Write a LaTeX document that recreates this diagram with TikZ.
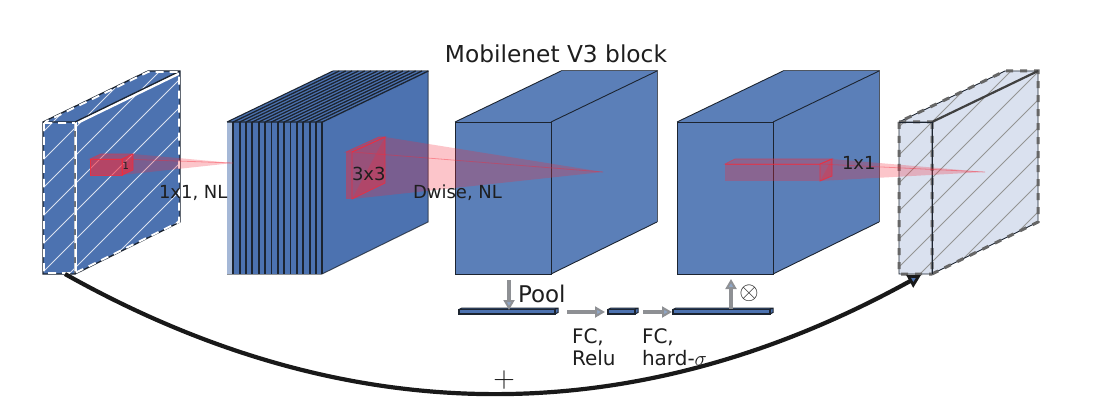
\documentclass[tikz,border=0pt]{standalone}
\usepackage{fontspec}
\setmainfont{DejaVu Sans}
\usetikzlibrary{arrows.meta,bending}
\definecolor{deepblue}{HTML}{4C72B0}
\definecolor{midblue}{HTML}{5B7FB8}
\definecolor{paleblue}{HTML}{DAE1EF}
\definecolor{edgeink}{HTML}{1C2430}
\definecolor{arrowgrey}{HTML}{8E9094}
\definecolor{headblue}{HTML}{8FA6C6}
\definecolor{textink}{HTML}{1E1E1E}
\definecolor{conered}{HTML}{F52A3A}
\tikzset{
  x=1pt,y=-1pt,
  blockedge/.style={draw=edgeink,line width=.9pt,line join=miter},
  backedge/.style={draw=edgeink,draw opacity=.75,line width=1pt},
  cone/.style={fill=conered,fill opacity=.27,draw=none},
  coneaxis/.style={draw=conered,draw opacity=.4,line width=.8pt},
  kernelface/.style={fill=conered,fill opacity=.62,draw=conered,draw opacity=.8,line width=.8pt},
  kerneltop/.style={fill=conered,fill opacity=.4,draw=conered,draw opacity=.5,line width=.8pt},
  label/.style={inner sep=0pt,outer sep=0pt,anchor=base west,text=textink,font=\fontsize{18}{20}\selectfont},
  sublabel/.style={label,font=\fontsize{20}{22}\selectfont},
  flowarrow/.style={draw=arrowgrey,line width=3.6pt,
    -{Triangle[length=10pt,width=11pt,fill=headblue,line width=2pt]}},
  skiparrow/.style={draw=black!90,line width=4.2pt,
    -{Triangle[length=13pt,width=14pt,fill=deepblue,line width=2.8pt,bend]}},
}
% A flat block from the squeeze-and-excite branch
\newcommand{\thinblock}[2]{%
  \fill[deepblue] (#1,309.5) -- (#1+3,308) -- (#2+3,308) -- (#2+3,312.5) -- (#2,314) -- (#1,314) -- cycle;
  \draw[edgeink,line width=1.3pt] (#1,309.5) rectangle (#2,314);
  \draw[edgeink,line width=1pt] (#1,309.5) -- (#1+3,308) -- (#2+3,308) -- (#2+3,312.5) -- (#2,314) (#2,309.5) -- (#2+3,308);
}
\begin{document}
\begin{tikzpicture}
\useasboundingbox (0,0) rectangle (1099,414);

% Input feature block, hatched and dashed in white
\fill[deepblue] (43,122) -- (148,71) -- (180,71) -- (180,222) -- (75,274) -- (43,274) -- cycle;
\begin{scope}
  \clip (43,122) -- (148,71) -- (180,71) -- (180,222) -- (75,274) -- (43,274) -- cycle;
  \foreach \k in {6,...,15}
    \draw[white,draw opacity=.8,line width=.9pt] ({7+28*\k-40},40) -- ({7+28*\k-300},300);
\end{scope}
\draw[white,line width=3pt] (75,122) -- (75,274);
\draw[white,line width=2.6pt] (78,122.5) -- (179,73.5);
\draw[edgeink,line width=1.3pt] (43,122) -- (75,122) -- (75,274) -- (43,274) -- cycle
  (43,122) -- (148,71) -- (180,71) -- (180,222) -- (75,274)
  (75,122) -- (180,71);
\draw[white,line width=1.9pt,dash pattern=on 8pt off 6pt]
  (44,123) -- (75,123) (44,123) -- (44,273) -- (75,273) (75.3,123) -- (75.3,273)
  (76,272.5) -- (179,222) -- (179,72) -- (148,72) -- (45,122);

% Stack of expanded channels
\fill[deepblue,fill opacity=.5] (227,122) -- (233,122) -- (233,274) -- (227,274) -- cycle;
\fill[deepblue] (233,122) -- (227,122) -- (333,71) -- (428,71) -- (428,222) -- (322,274) -- (233,274) -- cycle;
\foreach \k in {0,...,14} {
  \draw[edgeink,line width=1.8pt] ({233.3+6.36*\k},122) -- ({233.3+6.36*\k},274);
  \draw[edgeink,line width=1.3pt] ({233.3+6.36*\k},122) -- ({339.3+6.36*\k},71);
}
\draw[edgeink,line width=1.1pt] (227,122) -- (333,71) (227,122) -- (322,122);
\draw[backedge] (333,71) -- (428,71) -- (428,222) -- (322,274);
\draw[edgeink!50,line width=1pt] (227,274) -- (322,274);

% Depthwise output block
\fill[midblue] (455,122) -- (561,71) -- (657,71) -- (657,222) -- (551,274) -- (455,274) -- cycle;
\draw[blockedge] (455,122) rectangle (551,274);
\draw[blockedge] (455,122) -- (561,71) (551,122) -- (657,71) (551,274) -- (657,222);
\draw[backedge] (561,71) -- (657,71) -- (657,222);

% Squeeze-and-excite output block
\fill[midblue] (677,122) -- (783,71) -- (879,71) -- (879,222) -- (773,274) -- (677,274) -- cycle;
\draw[blockedge] (677,122) rectangle (773,274);
\draw[blockedge] (677,122) -- (783,71) (773,122) -- (879,71) (773,274) -- (879,222);
\draw[backedge] (783,71) -- (879,71) -- (879,222);

% Output feature block, pale and hatched in grey
\fill[paleblue] (899,122) -- (1005,71) -- (1038,71) -- (1038,222) -- (932,274) -- (899,274) -- cycle;
\begin{scope}
  \clip (899,122) -- (1005,71) -- (1038,71) -- (1038,222) -- (932,274) -- (899,274) -- cycle;
  \foreach \k in {0,...,10}
    \draw[black!42,line width=.8pt] ({998+28*\k-40},40) -- ({998+28*\k-300},300);
\end{scope}
\draw[edgeink,line width=.9pt] (899,122) -- (932,122) -- (932,274) -- (899,274) -- cycle
  (899,122) -- (1005,71) -- (1038,71) -- (1038,222) -- (932,274)
  (932,122) -- (1038,71);
\draw[black!60,line width=3pt,dash pattern=on 7pt off 7pt]
  (899,122) -- (932,122) (899,122) -- (899,274) -- (932,274) (932,122) -- (932,274)
  (932,274) -- (1038,222) -- (1038,71) -- (1005,71) -- (899,122);
\draw[black!75,line width=2.2pt] (932,122) -- (1038,71);
\draw[edgeink,line width=.9pt] (932,122) -- (932,274) (899,122) -- (932,122);

% Receptive-field cones and their kernels
\fill[cone] (133,154) -- (233,163) -- (122,175) -- cycle;
\draw[coneaxis] (122,159) -- (233,163);
\draw[kerneltop] (90,159) -- (101,154) -- (133,154) -- (122,159) -- cycle;
\draw[kernelface] (90,159) rectangle (122,175);
\draw[kernelface] (122,159) -- (133,154) -- (133,170) -- (122,175) -- cycle;

\fill[cone] (385,137) -- (603,172) -- (352,199) -- cycle;
\draw[coneaxis] (352,152) -- (603,172);
\draw[kerneltop] (346,152) -- (379,137) -- (385,137) -- (352,152) -- cycle;
\fill[conered,fill opacity=.45] (346,152) rectangle (352,199);
\draw[kernelface,fill opacity=.45] (352,152) -- (385,137) -- (385,183) -- (352,199) -- cycle;

\fill[cone] (832,159) -- (985,172) -- (820,181) -- cycle;
\draw[coneaxis] (820,164) -- (985,172);
\draw[kerneltop,fill opacity=.3] (725,164) -- (735,159) -- (832,159) -- (820,164) -- cycle;
\fill[conered,fill opacity=.3] (725,164) rectangle (820,181);
\draw[conered,draw opacity=.6,line width=.8pt] (725,164) -- (820,164);
\draw[kernelface,fill opacity=.45] (820,164) -- (832,159) -- (832,176) -- (820,181) -- cycle;

% Squeeze-and-excite branch
\thinblock{459}{555}
\thinblock{608}{635}
\thinblock{673}{770}
\coordinate (poolfrom) at (509,280);
\coordinate (poolto) at (509,310);
\coordinate (fcafrom) at (567,312);
\coordinate (fcato) at (605,312);
\coordinate (fcbfrom) at (643,312);
\coordinate (fcbto) at (672,312);
\coordinate (scalefrom) at (731,309);
\coordinate (scaleto) at (731,279);
\draw[flowarrow] (poolfrom) -- (poolto);
\draw[flowarrow] (fcafrom) -- (fcato);
\draw[flowarrow] (fcbfrom) -- (fcbto);
\draw[flowarrow] (scalefrom) -- (scaleto);

% Labels
\node[label,anchor=base,font=\fontsize{23.3}{25}\selectfont] (title) at (556,63) {Mobilenet V3 block};
\node[label,font=\fontsize{10}{12}\selectfont] (kernelone) at (122.5,170) {1};
\node[label] (convone) at (159,198) {1x1, NL};
\node[label] (kernelthree) at (352,180) {3x3};
\node[label] (dwise) at (413,198) {Dwise, NL};
\node[label] (convlast) at (842,170) {1x1};
\node[sublabel,font=\fontsize{23}{25}\selectfont] (pool) at (518,302) {Pool};
\node[sublabel] (fcrelua) at (572,343) {FC,};
\node[sublabel] (fcrelub) at (572,365) {Relu};
\node[sublabel] (fcsiga) at (642,343) {FC,};
\node[sublabel] (fcsigb) at (642,365) {hard-$\sigma$};
\node[label,anchor=center,font=\fontsize{24.88}{26}\selectfont] (scalemark) at (749,293) {$\otimes$};
\node[label,anchor=center,font=\fontsize{24.88}{26}\selectfont,scale=1.2] (addmark) at (504,380) {$+$};

% Residual connection along the bottom
\coordinate (skipfrom) at (65,274);
\coordinate (skipto) at (921,275);
\fill[white] (skipfrom) .. controls (350,434) and (640,434) .. (skipto) -- (1099,414) -- (0,414) -- cycle;
\draw[skiparrow] (skipfrom) .. controls (350,434) and (640,434) .. (skipto);
\end{tikzpicture}
\end{document}
